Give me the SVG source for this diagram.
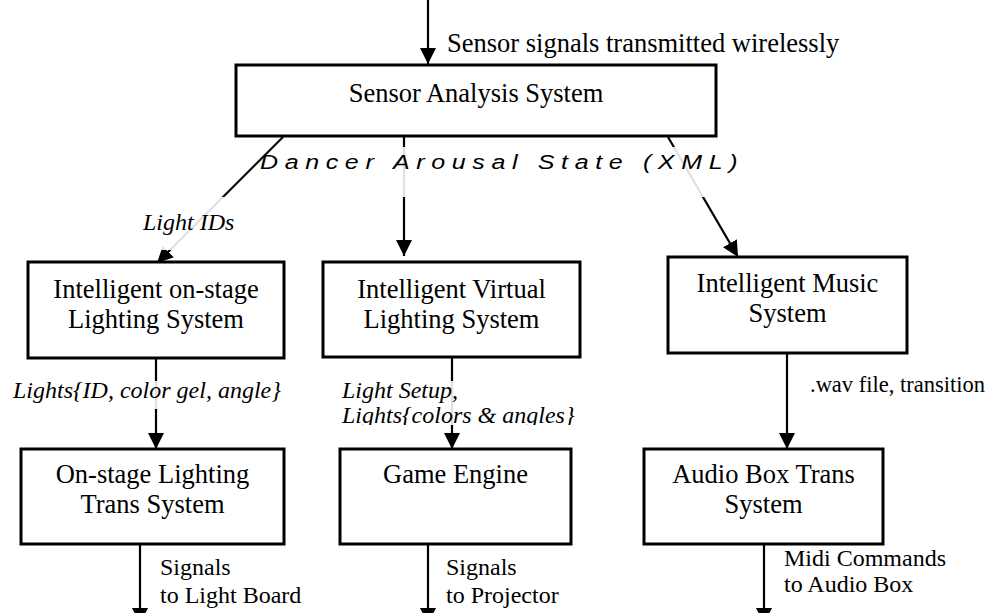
<svg xmlns="http://www.w3.org/2000/svg" width="998" height="613" viewBox="0 0 998 613">
<style>
.box{fill:#fff;stroke:#000;stroke-width:3}
.nt{font-family:"Liberation Serif","Times New Roman",serif;font-size:26.5px;fill:#000;text-anchor:middle}
.lbl{font-family:"Liberation Serif","Times New Roman",serif;font-size:24px;fill:#000}
.it{font-style:italic}
.wire{stroke:#000;stroke-width:2.2;fill:none;marker-end:url(#ah)}
.veil{fill:#fff;fill-opacity:0.88;stroke:none}
</style>
<defs>
<marker id="ah" markerUnits="userSpaceOnUse" markerWidth="17" markerHeight="17" refX="16" refY="8" orient="auto" viewBox="0 0 17 16">
<path d="M0,0 L16,8 L0,16 Z" fill="#000"/>
</marker>
<clipPath id="clipSetup"><rect x="330" y="370" width="260" height="55"/></clipPath>
</defs>
<rect width="998" height="613" fill="#fff"/>

<g id="connectors">
<line class="wire" x1="428" y1="0" x2="428" y2="64"/>
<line class="wire" x1="283" y1="137" x2="157" y2="263"/>
<line class="wire" x1="404" y1="137" x2="404" y2="256"/>
<line class="wire" x1="668" y1="137" x2="738" y2="257"/>
<line class="wire" x1="156" y1="359" x2="156" y2="449"/>
<line class="wire" x1="452" y1="358" x2="452" y2="449"/>
<line class="wire" x1="787" y1="354" x2="787" y2="449"/>
<line class="wire" x1="140" y1="545" x2="140" y2="624"/>
<line class="wire" x1="428" y1="545" x2="428" y2="624"/>
<line class="wire" x1="764" y1="545" x2="764" y2="624"/>
</g>

<g id="labels">
<text class="lbl" x="447" y="52" style="font-size:26.5px">Sensor signals transmitted wirelessly</text>
<rect class="veil" x="275" y="147" width="450" height="50"/>
<text transform="scale(1.25,1)" x="208" y="169" textLength="382" lengthAdjust="spacing" style="font-family:'Liberation Sans',Arial,sans-serif;font-style:italic;font-size:20px;fill:#000">Dancer Arousal State (XML)</text>
<rect class="veil" x="140" y="197" width="100" height="53"/>
<text class="lbl it" x="143" y="230">Light IDs</text>
<rect class="veil" x="10" y="381" width="275" height="28"/>
<text class="lbl it" x="13" y="398">Lights{ID, color gel, angle}</text>
<rect class="veil" x="338" y="381" width="240" height="44"/>
<g clip-path="url(#clipSetup)">
<text class="lbl it" x="342" y="398">Light Setup,</text>
<text class="lbl it" x="342" y="423">Lights{colors &amp; angles}</text>
</g>
<text class="lbl" x="810" y="392" style="font-size:22.5px">.wav file, transition</text>
<text class="lbl" x="160" y="575">Signals</text>
<text class="lbl" x="160" y="603">to Light Board</text>
<text class="lbl" x="446" y="575">Signals</text>
<text class="lbl" x="446" y="603">to Projector</text>
<text class="lbl" x="784" y="566">Midi Commands</text>
<text class="lbl" x="784" y="592">to Audio Box</text>
</g>

<g id="sensor-analysis">
<rect class="box" x="236" y="65" width="480" height="71"/>
<text class="nt" x="476" y="102">Sensor Analysis System</text>
</g>
<g id="onstage-lighting">
<rect class="box" x="28" y="262" width="256" height="96"/>
<text class="nt" x="156" y="298">Intelligent on-stage</text>
<text class="nt" x="156" y="328">Lighting System</text>
</g>
<g id="virtual-lighting">
<rect class="box" x="323" y="262" width="257" height="95"/>
<text class="nt" x="451.5" y="298">Intelligent Virtual</text>
<text class="nt" x="451.5" y="328">Lighting System</text>
</g>
<g id="music">
<rect class="box" x="668" y="257" width="239" height="96"/>
<text class="nt" x="787.5" y="292">Intelligent Music</text>
<text class="nt" x="787.5" y="322">System</text>
</g>
<g id="onstage-trans">
<rect class="box" x="21" y="449" width="263" height="95"/>
<text class="nt" x="152.5" y="483">On-stage Lighting</text>
<text class="nt" x="152.5" y="513">Trans System</text>
</g>
<g id="game-engine">
<rect class="box" x="340" y="449" width="231" height="95"/>
<text class="nt" x="455.5" y="483">Game Engine</text>
</g>
<g id="audio-trans">
<rect class="box" x="644" y="449" width="239" height="95"/>
<text class="nt" x="763.5" y="483">Audio Box Trans</text>
<text class="nt" x="763.5" y="513">System</text>
</g>
</svg>
